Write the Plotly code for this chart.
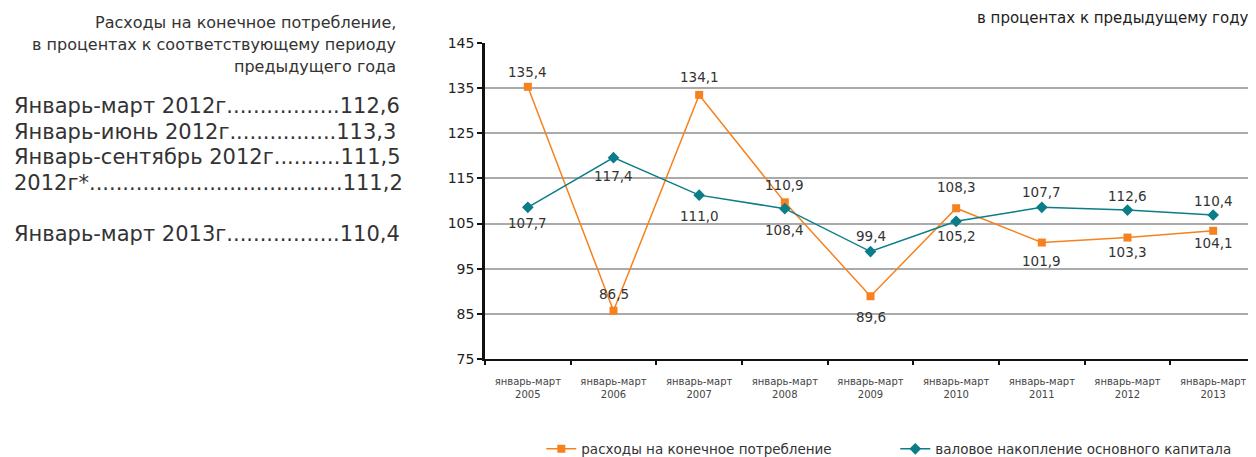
import plotly.graph_objects as go

YEARS = ["2005", "2006", "2007", "2008", "2009", "2010", "2011", "2012", "2013"]
CATEGORIES = [f"январь-март<br>{y}" for y in YEARS]

# plotted positions and the printed labels
CONSUMPTION = [135.3, 85.7, 133.5, 109.7, 88.9, 108.4, 100.8, 101.9, 103.4]
CONSUMPTION_LABELS = ["135,4", "86,5", "134,1", "110,9", "89,6", "108,3", "101,9", "103,3", "104,1"]
CAPITAL = [108.6, 119.6, 111.3, 108.3, 98.8, 105.5, 108.6, 108.0, 106.9]
CAPITAL_LABELS = ["107,7", "117,4", "111,0", "108,4", "99,4", "105,2", "107,7", "112,6", "110,4"]

HEADER_LINES = [
    "Расходы на конечное потребление,",
    "в процентах к соответствующему периоду",
    "предыдущего года",
]
SIDE_ROWS = [
    "Январь-март 2012г.................112,6",
    "Январь-июнь 2012г................113,3",
    "Январь-сентябрь 2012г..........111,5",
    "2012г*......................................111,2",
    "",
    "Январь-март 2013г.................110,4",
]

ORANGE = "#F5821F"
TEAL = "#0B7D88"
TEXT = "#333333"
FONT = "DejaVu Sans, Verdana, sans-serif"

# label offsets in px (positive = above the marker)
CONS_SHIFT = [15, 17, 18, 17, -21, 21, -18, -14, -12]
CAP_SHIFT = [-16, -18, -21, -21, 16, -15, 15, 14, 14]

fig = go.Figure()

fig.add_trace(go.Scatter(
    x=CATEGORIES, y=CONSUMPTION, mode="lines+markers",
    name="расходы на конечное потребление",
    line=dict(color=ORANGE, width=1.5),
    marker=dict(symbol="square", size=8, color=ORANGE),
))
fig.add_trace(go.Scatter(
    x=CATEGORIES, y=CAPITAL, mode="lines+markers",
    name="валовое накопление основного капитала",
    line=dict(color=TEAL, width=1.5),
    marker=dict(symbol="diamond", size=9, color=TEAL),
))

for cat, val, lab, sh in zip(CATEGORIES, CONSUMPTION, CONSUMPTION_LABELS, CONS_SHIFT):
    fig.add_annotation(x=cat, y=val, text=lab, showarrow=False, yshift=sh,
                       font=dict(size=13.5, color=TEXT, family=FONT))
for cat, val, lab, sh in zip(CATEGORIES, CAPITAL, CAPITAL_LABELS, CAP_SHIFT):
    fig.add_annotation(x=cat, y=val, text=lab, showarrow=False, yshift=sh,
                       font=dict(size=13.5, color=TEXT, family=FONT))

# chart subtitle, top right
fig.add_annotation(text="в процентах к предыдущему году", xref="paper", yref="paper",
                   x=1.0, xshift=-5, y=1.0, yshift=25, xanchor="right", yanchor="middle",
                   showarrow=False, font=dict(size=15, color="#222", family=FONT))

# left text block
for i, line in enumerate(HEADER_LINES):
    fig.add_annotation(text=line, xref="paper", yref="paper",
                       x=0, xshift=-87, y=1.0, yshift=21 - i * 22,
                       xanchor="right", yanchor="middle", showarrow=False,
                       font=dict(size=16, color=TEXT, family=FONT))
for i, row in enumerate(SIDE_ROWS):
    if not row:
        continue
    fig.add_annotation(text=row, xref="paper", yref="paper", x=0, xshift=-473,
                       y=1.0, yshift=-63 - i * 25.5, xanchor="left", yanchor="middle",
                       showarrow=False, font=dict(size=21, color=TEXT, family=FONT))

fig.update_layout(
    width=1248, height=449,
    margin=dict(l=477, r=0, t=35, b=98, autoexpand=False),
    paper_bgcolor="white", plot_bgcolor="white",
    font=dict(family=FONT, color=TEXT),
    showlegend=True,
    legend=dict(orientation="h", x=0.073, y=-0.285, xanchor="left", yanchor="middle",
                font=dict(size=13.5, color=TEXT), itemwidth=30, entrywidth=309,
                bgcolor="rgba(0,0,0,0)"),
)
fig.update_xaxes(
    type="category", range=[-0.5, 8.5], showgrid=False, automargin=False,
    showline=True, linecolor="#111", linewidth=2,
    ticks="outside", tickson="boundaries", ticklen=4, tickwidth=2, tickcolor="#111",
    ticklabelstandoff=12,
    tickfont=dict(size=10, color="#444"),
)
fig.update_yaxes(
    range=[75, 145], dtick=10, tick0=75, automargin=False,
    showgrid=True, gridcolor="#AAAAAA", gridwidth=2,
    showline=True, linecolor="#111", linewidth=2.5, zeroline=False,
    ticks="outside", ticklen=5, tickwidth=2, tickcolor="#111",
    tickfont=dict(size=14, color="#222"),
)

fig.write_html("out.html")
